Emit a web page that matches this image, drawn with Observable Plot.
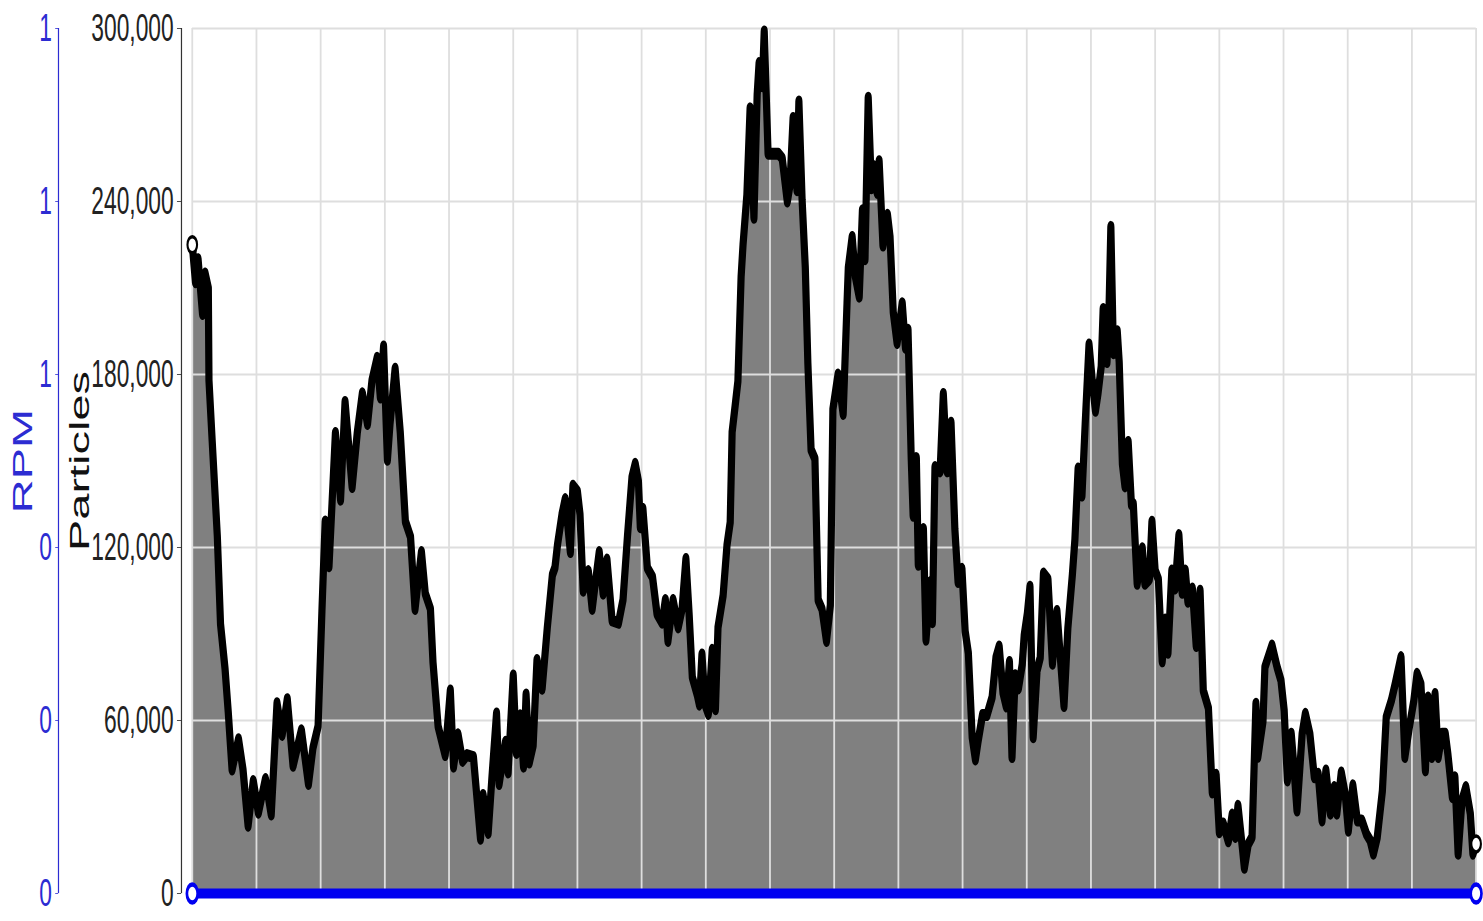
<!DOCTYPE html>
<html>
<head>
<meta charset="utf-8">
<script src="https://cdn.jsdelivr.net/npm/d3@7"></script>
<script src="https://cdn.jsdelivr.net/npm/@observablehq/plot@0.6"></script>
<style>
  html, body { margin: 0; padding: 0; background: #fff; overflow: hidden; }
  #chart svg { display: block; }
</style>
</head>
<body>
<div id="chart"></div>
<script>
// Particle count over time (minutes), read at irregular sample times.
const minutes = [
  0, 0.5, 0.9, 1.6, 2.0, 2.5, 2.6, 3.1, 3.9, 4.4, 5.1, 5.6, 6.2, 7.2, 7.9, 8.7, 9.5, 10.3, 11.4, 12.3,
  13.2, 14.0, 14.8, 15.7, 17.0, 18.1, 18.8, 19.6, 20.2, 20.7, 21.3, 22.3, 23.1, 23.8, 24.9, 25.7, 26.5, 27.3, 28.0, 28.8,
  29.3, 29.8, 30.4, 30.8, 31.6, 32.4, 33.2, 34.0, 34.7, 35.7, 36.3, 37.1, 37.5, 38.3, 39.4, 40.2, 40.7, 41.4, 42.1, 42.8,
  43.8, 44.9, 45.3, 46.1, 46.7, 47.4, 47.8, 48.8, 49.2, 50.0, 50.5, 51.1, 51.6, 52.0, 52.5, 53.1, 53.7, 54.5, 55.3, 56.1,
  56.5, 56.9, 57.6, 58.1, 58.9, 59.3, 60.0, 60.4, 60.9, 61.7, 62.3, 62.8, 63.4, 64.0, 64.6, 65.4, 66.4, 67.1, 67.8, 68.5,
  69.0, 69.5, 69.8, 70.2, 70.9, 71.7, 72.4, 73.2, 73.7, 74.1, 74.9, 75.7, 76.3, 76.9, 77.4, 77.9, 78.7, 79.0, 79.4, 79.9,
  80.4, 81.0, 81.5, 81.9, 82.7, 83.3, 83.8, 84.1, 84.6, 85.0, 85.5, 85.8, 86.4, 86.9, 87.5, 88.0, 88.3, 88.8, 89.1, 89.7,
  90.3, 91.3, 91.9, 92.7, 93.1, 93.6, 94.2, 94.5, 95.0, 95.5, 95.9, 96.4, 97.0, 97.5, 98.1, 98.8, 99.4, 99.8, 100.6, 101.4,
  102.0, 102.2, 102.8, 103.3, 103.9, 104.4, 104.8, 105.3, 105.8, 106.1, 106.7, 107.0, 107.6, 108.3, 108.7, 109.2, 109.8, 110.6, 111.1, 111.5,
  112.0, 112.3, 112.8, 113.1, 113.9, 114.3, 115.0, 115.3, 115.7, 116.5, 117.0, 117.6, 118.2, 118.8, 119.3, 119.9, 120.4, 120.9, 121.5, 122.0,
  122.4, 123.1, 123.8, 124.6, 125.2, 125.7, 126.3, 126.8, 127.3, 127.7, 128.2, 128.7, 129.3, 129.6, 130.1, 130.5, 131.0, 131.6, 132.1, 132.6,
  133.3, 134.0, 134.7, 135.2, 135.8, 136.4, 137.1, 137.5, 138.0, 138.6, 139.1, 139.7, 140.2, 140.7, 141.1, 141.6, 141.9, 142.5, 142.8, 143.1,
  143.5, 144.1, 144.4, 144.9, 145.3, 145.8, 146.3, 146.6, 147.2, 148.0, 148.4, 149.1, 149.5, 150.0, 150.5, 151.1, 151.6, 152.0, 152.6, 153.1,
  153.7, 154.2, 154.7, 155.1, 155.8, 156.4, 157.0, 157.5, 158.3, 158.9, 159.5, 160.0, 160.6, 161.4, 162.0, 162.5, 162.9, 163.6, 163.9, 164.5,
  165.1, 165.7, 166.0, 166.8, 167.1, 168.2, 169.0, 169.6, 170.1, 170.6, 171.2, 171.5, 172.1, 172.9, 173.4, 174.1, 174.8, 175.4, 176.0, 176.6,
  177.3, 177.9, 178.3, 179.0, 179.6, 180.1, 180.8, 181.5, 182.2, 182.9, 183.5, 184.0, 184.6, 185.4, 186.0, 186.8, 187.4, 188.3, 188.9, 189.6,
  190.3, 190.8, 191.4, 192.1, 192.5, 193.1, 193.6, 194.1, 194.7, 195.2, 195.6, 196.3, 196.7, 197.2, 197.8, 198.4, 199.1, 199.5, 200
];

// Particles, in thousands, one per sample time above.
const particlesK = [
  225, 212, 220, 201, 215, 210, 178, 157, 124, 93.5, 78, 63, 43, 53.5, 43, 23.5, 39, 28, 39.7, 27.4,
  66, 55, 67.4, 44.3, 56.6, 38, 50.5, 58, 98, 129, 113.5, 159.7, 136.6, 170.5, 141, 159.7, 173.5, 162.8, 178, 185.8,
  172, 189.7, 150.4, 162.8, 182, 160, 129, 123.7, 98.7, 118.4, 104, 98.7, 80.2, 57.9, 48, 70.4, 44, 55.2, 46, 48,
  47.3, 19, 34.2, 21, 40.8, 62.4, 38, 52.6, 42, 75.6, 48.7, 61.8, 44, 69, 45.4, 51.3, 81, 71, 92, 110.5,
  113, 121, 131.5, 136.8, 118.4, 141.4, 139.4, 131.5, 105, 111.8, 98.7, 107.9, 118.4, 104, 115.8, 94.7, 93.9, 101.8, 124, 144.4,
  149, 143, 127, 133.4, 112.9, 109.7, 97, 93.9, 101.8, 87.6, 101.8, 92.3, 98.7, 116, 97, 75, 68.7, 65.5, 82.9, 65.5,
  62.3, 84.5, 63.9, 92.3, 103.4, 120.8, 128.7, 160, 169.7, 177.6, 213.9, 225, 242.3, 272.3, 234.4, 277, 288, 280, 299, 256.6,
  256.6, 256.6, 255, 240, 245.5, 269, 243.9, 274.7, 240.7, 217, 183.9, 153.9, 150.8, 101.8, 98.7, 87.6, 100, 168, 180, 166.3,
  204.7, 217, 227.7, 213.9, 207, 237, 220, 276, 244.6, 252.3, 243, 254, 224.7, 235.4, 227.7, 201.7, 190.9, 204.7, 189.3, 195.5,
  151, 131, 151, 114, 126.4, 88, 108, 94.1, 147.9, 146.4, 173.2, 146.4, 163.3, 126.4, 108, 112.6, 91, 83.4, 54.2, 46.5,
  52.6, 61.9, 61.9, 68, 81.8, 85.7, 69.6, 64.9, 80.3, 47.3, 75.7, 71.1, 79.5, 89.5, 97.2, 106.4, 54.2, 77.3, 81.8, 111,
  109, 79.7, 98, 82.8, 65, 92, 110.4, 122.8, 147.4, 138, 162.8, 190.4, 178, 167.4, 173.5, 182.8, 202.7, 184.3, 201.2, 231.2,
  187.4, 195, 184.3, 148.9, 141.2, 156.6, 135, 135, 107.4, 119.7, 107.4, 109, 128.9, 112, 109, 80.5, 95, 83.5, 112, 105.8,
  124.3, 104.3, 112, 101.2, 105.8, 85.8, 105, 70.4, 64.3, 35, 41.2, 21.2, 24.3, 18.1, 27.4, 19.6, 30.4, 15.6, 8.9, 17.1,
  19.6, 65.8, 47.4, 59.7, 78.5, 86, 78.5, 73.9, 63.5, 39.2, 55.4, 47.3, 28.8, 55.4, 62.3, 55.4, 40.3, 41.5, 25.3, 42.7,
  27.7, 36.9, 27.7, 42, 34.6, 21.8, 37.5, 25.3, 25.3, 20.7, 18.4, 13.8, 19.5, 35.6, 61.1, 66.9, 72.7, 82, 47.3, 57.7,
  66.9, 76.2, 72.7, 42.7, 68, 47.3, 69.2, 47.3, 55.4, 55.4, 48.4, 33.4, 40.3, 13.8, 32.3, 36.9, 27.7, 13.8, 17.2
];

// RPM over the same period
const rpmMinutes = [0, 200];
const rpmValues = [0, 0];

// Axis ticks
const particleTicks = [0, 60000, 120000, 180000, 240000, 300000];
const rpmTicks = [0, 0.2, 0.4, 0.6, 0.8, 1.0];
const RPM_MAX = 1;            // top of the RPM axis
const PARTICLES_MAX = 300000; // top of the particles axis

const particles = particlesK.map(k => k * 1000);
const series = minutes.map((t, i) => ({t, p: particles[i]}));
// RPM is drawn on the particles scale: RPM_MAX lines up with PARTICLES_MAX
const toP = r => r / RPM_MAX * PARTICLES_MAX;
const rpmSeries = rpmMinutes.map((t, i) => ({t, p: toP(rpmValues[i])}));

// The chart is laid out wide and then squeezed horizontally into the page
const OUT_W = 1483, OUT_H = 921;
const SX = 0.6;
const W = Math.round(OUT_W / SX);

const font = "'Liberation Sans', Arial, Helvetica, sans-serif";
const blueAxis = "#2c2cd2";
const lineBlue = "#0000f0";

const chart = Plot.plot({
  width: W,
  height: OUT_H,
  marginLeft: 320,
  marginRight: 12,
  marginTop: 28,
  marginBottom: 28,
  style: {fontFamily: font, fontSize: "36px", background: "#fff", overflow: "visible"},
  x: {domain: [0, 200], axis: null},
  y: {domain: [0, PARTICLES_MAX]},
  marks: [
    Plot.areaY(series, {x: "t", y: "p", fill: "#808080"}),
    Plot.gridX(d3.range(0, 201, 10), {stroke: "#dedede", strokeOpacity: 1, strokeWidth: 3}),
    Plot.gridY(particleTicks, {stroke: "#dedede", strokeOpacity: 1, strokeWidth: 2}),
    Plot.line(series, {x: "t", y: "p", stroke: "#000", strokeWidth: 12, strokeLinejoin: "round", strokeLinecap: "round"}),
    Plot.dot([series[0], series[series.length - 1]], {x: "t", y: "p", r: 8, stroke: "#000", strokeWidth: 3.5, fill: "#fff"}),
    Plot.line(rpmSeries, {x: "t", y: "p", stroke: lineBlue, strokeWidth: 10}),
    Plot.dot([rpmSeries[0], rpmSeries[rpmSeries.length - 1]], {x: "t", y: "p", r: 9, stroke: lineBlue, strokeWidth: 4.5, fill: "#fff"}),

    // Particles axis
    Plot.ruleX([0], {y1: 0, y2: PARTICLES_MAX, dx: -18, stroke: "#333", strokeWidth: 2}),
    Plot.axisY(particleTicks, {
      anchor: "left", dx: -18, tickSize: 7, tickPadding: 6, label: null,
      tickFormat: d3.format(","), color: "#222", fontSize: 38
    }),
    Plot.text(["Particles"], {
      frameAnchor: "left", rotate: -90, dx: -172, textAnchor: "middle", lineAnchor: "bottom",
      fontSize: 47, fill: "#111"
    }),

    // RPM axis
    Plot.ruleX([0], {y1: 0, y2: PARTICLES_MAX, dx: -223, stroke: blueAxis, strokeWidth: 2}),
    Plot.axisY(rpmTicks.map(toP), {
      anchor: "left", dx: -223, tickSize: 5, tickPadding: 6, label: null,
      tickFormat: d => d3.format(".0f")(d / PARTICLES_MAX * RPM_MAX), color: blueAxis, fontSize: 38
    }),
    Plot.text(["RPM"], {
      frameAnchor: "left", rotate: -90, dx: -267, textAnchor: "middle", lineAnchor: "bottom",
      fontSize: 47, fill: blueAxis
    })
  ]
});

chart.setAttribute("width", OUT_W);
chart.setAttribute("height", OUT_H);
chart.setAttribute("preserveAspectRatio", "none");
chart.style.width = OUT_W + "px";
chart.style.height = OUT_H + "px";
chart.style.maxWidth = "none";
document.getElementById("chart").appendChild(chart);
</script>
</body>
</html>
